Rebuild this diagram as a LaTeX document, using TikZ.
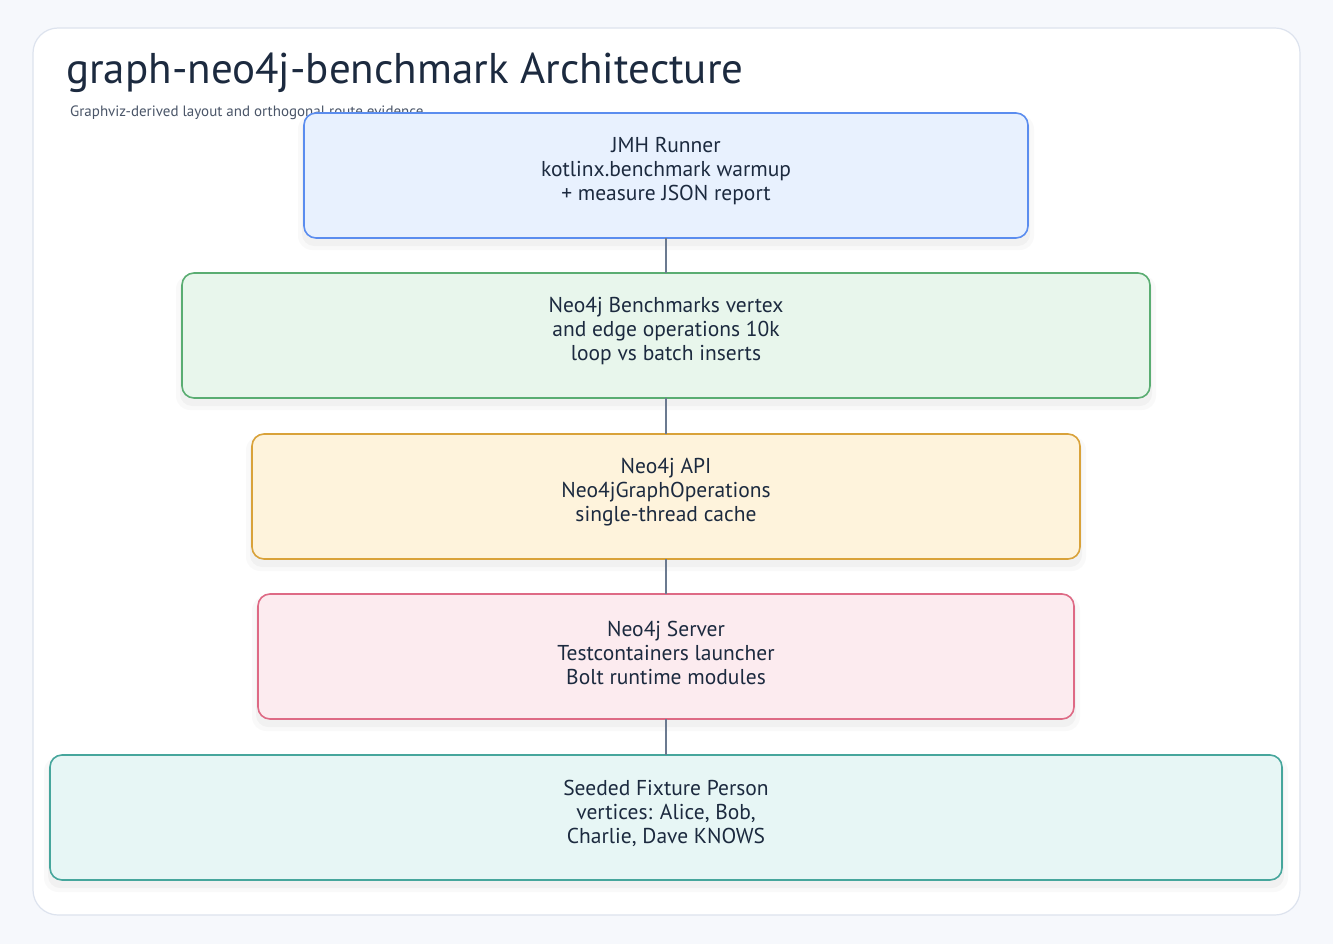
\documentclass[tikz,border=0pt]{standalone}
\usepackage{fontspec}
\setmainfont{PT Sans}
\begin{document}
\begin{tikzpicture}[x=1pt,y=-1pt,
  txt/.style={text=textc, align=center, font=\fontsize{21.5}{24}\selectfont},
  card/.style={rounded corners=12pt, line width=1.6pt},
  link/.style={draw=linkc, line width=1.8pt}]
\definecolor{bgc}{HTML}{F6F8FC}
\definecolor{cardb}{HTML}{DDE3EE}
\definecolor{textc}{HTML}{1C2A3F}
\definecolor{subc}{HTML}{4A5568}
\definecolor{linkc}{HTML}{6B7A90}
\definecolor{fA}{HTML}{E8F1FE}\definecolor{dA}{HTML}{5B8DEF}
\definecolor{fB}{HTML}{E8F6EC}\definecolor{dB}{HTML}{5AAD72}
\definecolor{fC}{HTML}{FEF3DC}\definecolor{dC}{HTML}{D9A23A}
\definecolor{fD}{HTML}{FCEBEF}\definecolor{dD}{HTML}{DE6A85}
\definecolor{fE}{HTML}{E7F6F5}\definecolor{dE}{HTML}{46A69C}
\useasboundingbox (0,0) rectangle (1333,944);
\fill[bgc] (0,0) rectangle (1333,944);
\draw[cardb, fill=white, line width=1.2pt, rounded corners=25pt] (33,28) rectangle (1300,915);
% title
\node[anchor=west, text=textc, font=\fontsize{43}{46}\selectfont, inner sep=0pt] (title) at (66,73) {graph-neo4j-benchmark Architecture};
\node[anchor=west, text=subc, font=\fontsize{15}{17}\selectfont, inner sep=0pt] (subtitle) at (70,113) {Graphviz-derived layout and orthogonal route evidence};
% shadows
\foreach \xa/\ya/\xb/\yb in {304/113/1028/238, 182/273/1150/398, 252/434/1080/559, 258/594/1074/719, 50/755/1282/880}{
  \fill[black, opacity=0.025, rounded corners=14pt] (\xa-6,\ya+2) rectangle (\xb+6,\yb+12);
  \fill[black, opacity=0.03, rounded corners=12pt] (\xa-2,\ya+4) rectangle (\xb+2,\yb+8);
}
% boxes
\draw[card, fill=fA, draw=dA] (304,113) rectangle (1028,238);
\node[txt] (jmh) at (666,171.5) {JMH Runner\\kotlinx.benchmark warmup\\+ measure JSON report};
\draw[card, fill=fB, draw=dB] (182,273) rectangle (1150,398);
\node[txt] (bench) at (666,331.5) {Neo4j Benchmarks vertex\\and edge operations 10k\\loop vs batch inserts};
\draw[card, fill=fC, draw=dC] (252,434) rectangle (1080,559);
\node[txt] (api) at (666,492.5) {Neo4j API\\Neo4jGraphOperations\\single-thread cache};
\draw[card, fill=fD, draw=dD] (258,594) rectangle (1074,719);
\node[txt] (server) at (666,652.5) {Neo4j Server\\Testcontainers launcher\\Bolt runtime modules};
\draw[card, fill=fE, draw=dE] (50,755) rectangle (1282,880);
\node[txt] (seed) at (666,813.5) {Seeded Fixture Person\\vertices: Alice, Bob,\\Charlie, Dave KNOWS};
% anchors at box edges
\coordinate (a1) at (666,238); \coordinate (b0) at (666,273);
\coordinate (b1) at (666,398); \coordinate (c0) at (666,434);
\coordinate (c1) at (666,559); \coordinate (d0) at (666,594);
\coordinate (d1) at (666,719); \coordinate (e0) at (666,755);
\draw[link] (a1) -- (b0);
\draw[link] (b1) -- (c0);
\draw[link] (c1) -- (d0);
\draw[link] (d1) -- (e0);
\end{tikzpicture}
\end{document}
